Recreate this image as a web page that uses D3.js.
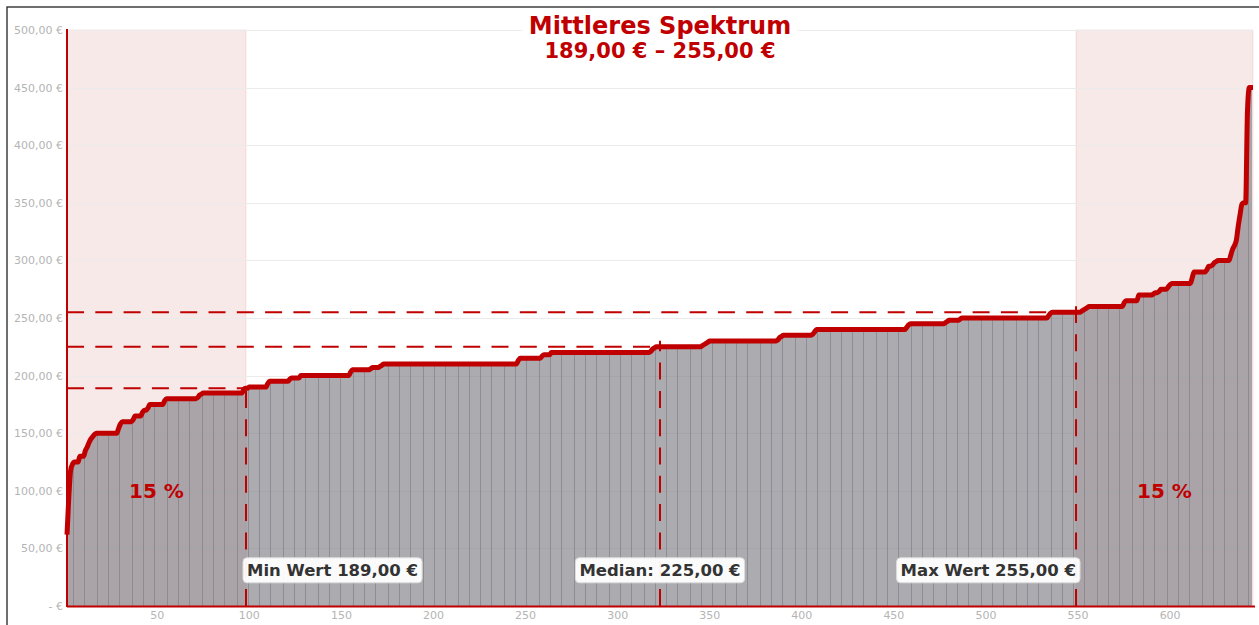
<!DOCTYPE html>
<html><head><meta charset="utf-8">
<script src="https://cdn.jsdelivr.net/npm/d3@7"></script>
<style>
html,body{margin:0;padding:0;background:#fff;overflow:hidden}
svg{display:block;font-family:"DejaVu Sans",sans-serif}
</style>
</head><body>
<svg id="chart" width="1259" height="625"></svg>
<script>
// ---- data ----
// sorted prices, stored as runs of identical values
const runValues = [62,95,118,123,125,130,135,138,142,145,147,149,150,154,158,160,162,165,168,170,172,175,178,180,181,183,184,185,188,189,190,193,195,197,198,200,203,205,206,207,208,209,210,213,215,217,218,220,221,223,224,225,226,227,228,229,230,231,233,234,235,236,238,240,242,244,245,246,247,248,249,250,252,254,255,256,257,258,259,260,263,265,270,271,272,273,275,277,279,280,285,290,292,295,296,298,299,300,305,310,313,318,330,340,349,350,430,450];
const runCounts = [1,1,1,1,3,3,1,1,1,1,1,1,12,1,1,6,1,4,1,2,1,8,1,17,1,1,1,22,1,2,10,1,11,1,5,27,1,10,1,4,1,1,73,1,12,1,4,54,1,1,1,25,1,1,1,1,37,1,1,1,16,1,1,49,1,1,19,1,1,6,1,47,1,1,16,1,1,1,1,19,1,7,8,1,2,1,4,1,1,11,1,7,1,2,1,1,1,7,1,1,1,1,1,1,1,2,1,3];
const yTicks = [0,50,100,150,200,250,300,350,400,450,500];
const yTickLabels = ["- €","50,00 €","100,00 €","150,00 €","200,00 €","250,00 €","300,00 €","350,00 €","400,00 €","450,00 €","500,00 €"];
const xTicks = [50,100,150,200,250,300,350,400,450,500,550,600];
const markerPositions = [98.2,323,548.9];   // rank positions of 15 %, median, 85 %
const markerValues = [189,225,255];
const markerTexts = ["Min Wert 189,00 €","Median: 225,00 €","Max Wert 255,00 €"];
const bandLabels = ["15 %","15 %"];
const titleText = "Mittleres Spektrum";
const subtitleText = "189,00 € – 255,00 €";

// ---- build series ----
const prices = [];
runValues.forEach((v,k)=>{ for(let j=0;j<runCounts[k];j++) prices.push(v); });
const n = prices.length;
const points = prices.map((v,i)=>({i:i+1,v:v}));
const bands = [[1,markerPositions[0]],[markerPositions[2],n]];

// ---- layout ----
const W=1259,H=625;
const m={left:67,right:6,top:30,bottom:19};
const RED="#c00000";
const svg=d3.select("#chart");

// outer frame
svg.append("rect").attr("x",7).attr("y",7).attr("width",W+20).attr("height",H+20)
  .attr("fill","none").attr("stroke","#222").attr("stroke-width",1.3);

const x=d3.scaleLinear().domain([1,n]).range([m.left,W-m.right]);
const y=d3.scaleLinear().domain([0,500]).range([H-m.bottom,m.top]);

// bands (behind everything)
svg.append("g").selectAll("rect").data(bands).join("rect")
  .attr("x",d=>x(d[0])).attr("y",y(500))
  .attr("width",d=>x(d[1])-x(d[0])).attr("height",y(0)-y(500))
  .attr("fill","rgba(190,40,40,0.1)").attr("stroke","rgba(204,0,0,0.1)").attr("stroke-width",1);

// grid lines
svg.append("g").selectAll("line").data(yTicks.filter(d=>d>0)).join("line")
  .attr("x1",x(1)).attr("x2",x(n)).attr("y1",d=>Math.round(y(d))+0.5).attr("y2",d=>Math.round(y(d))+0.5)
  .attr("stroke","#ebebeb").attr("stroke-width",1);

// bars (one per price)
svg.append("clipPath").attr("id","plotclip").append("rect")
  .attr("x",x(1)+1).attr("y",0).attr("width",x(n)-x(1)-2).attr("height",H);
const step=x(2)-x(1);
svg.append("g").attr("clip-path","url(#plotclip)").selectAll("rect").data(points).join("rect")
  .attr("x",d=>x(d.i)-step/2).attr("width",Math.ceil(step))
  .attr("y",d=>y(d.v)).attr("height",d=>y(0)-y(d.v))
  .attr("fill","rgb(125,123,132)").attr("fill-opacity",0.64)
  .attr("shape-rendering","crispEdges");

// dashed marker lines
const dash="17,11.3";
const mk=svg.append("g");
markerPositions.forEach((p,k)=>{
  const xi=x(p), yv=y(markerValues[k]);
  mk.append("line").attr("x1",x(1)).attr("x2",xi).attr("y1",yv).attr("y2",yv)
    .attr("stroke",RED).attr("stroke-width",2).attr("stroke-dasharray",dash);
  mk.append("line").attr("x1",xi).attr("x2",xi).attr("y1",y(0)).attr("y2",yv-6)
    .attr("stroke",RED).attr("stroke-width",2).attr("stroke-dasharray",dash);
});

// price line
const line=d3.line().x(d=>x(d.i)).y(d=>y(d.v)).curve(d3.curveMonotoneX);
svg.append("path").datum(points).attr("d",line).attr("fill","none")
  .attr("stroke",RED).attr("stroke-width",5).attr("stroke-linejoin","round");

// axes lines
svg.append("line").attr("x1",x(1)).attr("x2",x(1)).attr("y1",y(500)-1).attr("y2",y(0)+1)
  .attr("stroke",RED).attr("stroke-width",2);
svg.append("line").attr("x1",x(1)).attr("x2",x(n)+2).attr("y1",y(0)+0.5).attr("y2",y(0)+0.5)
  .attr("stroke",RED).attr("stroke-width",2);

// y tick labels
svg.append("g").selectAll("text").data(yTicks).join("text")
  .attr("x",x(1)-4).attr("y",d=>y(d)+4).attr("text-anchor","end")
  .attr("font-size",11).attr("fill","#b4b4b4").text((d,k)=>yTickLabels[k]);
// x tick labels
svg.append("g").selectAll("text").data(xTicks).join("text")
  .attr("x",d=>x(d)).attr("y",y(0)+13).attr("text-anchor","middle")
  .attr("font-size",11).attr("fill","#b4b4b4").text(d=>d);

// band labels
svg.append("g").selectAll("text").data(bands).join("text")
  .attr("x",d=>(x(d[0])+x(d[1]))/2).attr("y",y(100)+7)
  .attr("text-anchor","middle").attr("font-size",20).attr("font-weight","bold")
  .attr("fill",RED).text((d,k)=>bandLabels[k]);

// annotation boxes
const anchors=["start","middle","end"];
markerPositions.forEach((p,k)=>{
  const xi=x(p);
  const g=svg.append("g");
  const t=g.append("text").attr("x",anchors[k]==="start"?xi+1:xi).attr("y",y(31)+6)
    .attr("text-anchor",anchors[k]).attr("font-size",16.5).attr("font-weight","bold")
    .attr("fill","#333").text(markerTexts[k]);
  const b=t.node().getBBox();
  g.insert("rect","text").attr("x",b.x-4).attr("y",y(31)-12.5).attr("width",b.width+8).attr("height",25)
    .attr("rx",4).attr("fill","rgba(255,255,255,0.95)").attr("stroke","#dcdcdc").attr("stroke-width",1);
});

// title
const tg=svg.append("g");
const cx=(x(1)+x(n))/2;
const t1=tg.append("text").attr("x",cx).attr("y",34).attr("text-anchor","middle")
  .attr("font-size",24).attr("font-weight","bold").attr("fill",RED).text(titleText);
const t2=tg.append("text").attr("x",cx).attr("y",58).attr("text-anchor","middle")
  .attr("font-size",21).attr("font-weight","bold").attr("fill",RED).text(subtitleText);
const tb=t1.node().getBBox();
tg.insert("rect","text").attr("x",tb.x-7).attr("y",12).attr("width",tb.width+14).attr("height",52).attr("fill","#fff");
</script>
</body></html>
